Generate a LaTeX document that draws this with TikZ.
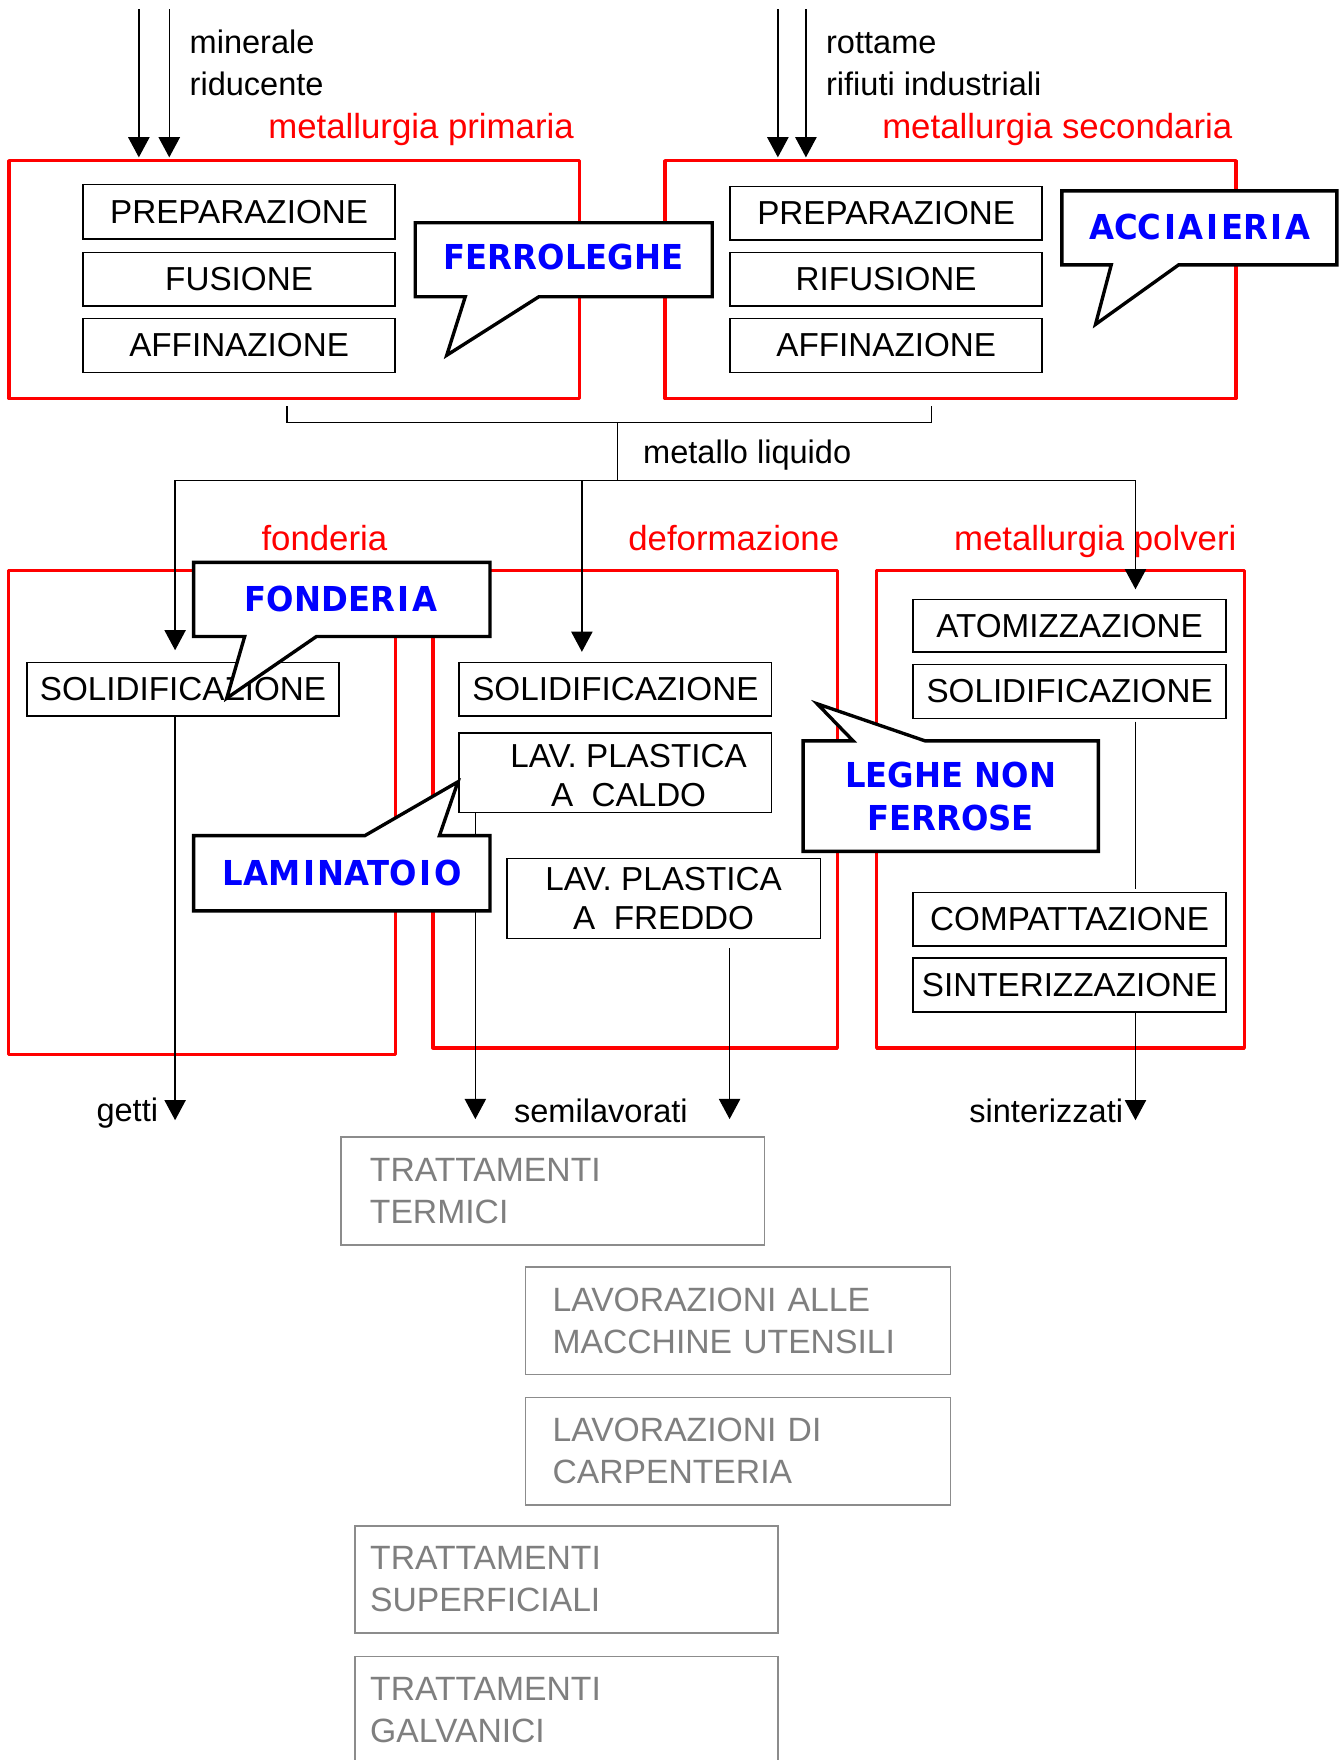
\documentclass[tikz,border=0pt]{standalone}
\usepackage{fontspec}
\setmainfont{Liberation Sans}
\newfontfamily\callfont[FakeStretch=0.94]{DejaVu Sans}
\usetikzlibrary{arrows.meta,fit}
\definecolor{rd}{HTML}{FF0000}
\definecolor{bl}{HTML}{0000FF}
\definecolor{gtext}{HTML}{7F7F7F}
\definecolor{gline}{HTML}{8C8C8C}
\newcommand\Ii{\kern1.2pt I\kern1.2pt}
\begin{document}
\begin{tikzpicture}[x=0.5pt,y=-0.5pt,
  every node/.style={inner sep=0pt, outer sep=0pt},
  bx/.style n args={4}{at={({(#1+#3)/2},{(#2+#4)/2})}, minimum width={(#3-#1)*0.5pt}, minimum height={(#4-#2)*0.5pt}},
  redbox/.style={draw=rd, line width=1.5pt, line join=round, rectangle},
  pbox/.style={draw=black, line width=0.7pt, fill=white, rectangle, font=\fontsize{14.8}{17.5}\selectfont, align=center},
  ptext/.style={font=\fontsize{14.8}{17.5}\selectfont, align=center},
  lbl/.style={font=\fontsize{14.5}{19}\selectfont, anchor=base west},
  rlbl/.style={text=rd, font=\fontsize{15.5}{19}\selectfont, anchor=base west},
  gbox/.style={draw=gline, line width=0.75pt, text=gtext, rectangle, font=\fontsize{15}{18.65}\selectfont, align=left, inner ysep=0pt},
  callout/.style={draw=black, line width=1.5pt, fill=white, line join=miter},
  ctext/.style={text=bl, font=\callfont\bfseries\fontsize{15.3}{19.5}\selectfont, align=center},
  conn/.style={draw=black, line width=0.6pt},
  arr/.style={conn, -{Triangle[width=9.5pt,length=9pt]}},
]
\useasboundingbox (0,0) rectangle (1196,1568);
\fill[white] (0,0) rectangle (1196,1568);
\clip (0,0) rectangle (1196,1568);

% ---------- red group frames ----------
\node[redbox, fit={(8,143.2) (516.5,355)}] (mp) {};
\node[redbox, fit={(592.5,143.2) (1101,355)}] (ms) {};
\node[redbox, fit={(7.5,508) (352.5,939.5)}] (fo) {};
\node[redbox, fit={(385.7,508) (746,933.5)}] (de) {};
\node[redbox, fit={(781,508) (1108.5,933.5)}] (po) {};

% ---------- labels ----------
\node[lbl] (minerale) at (169,47.5) {minerale};
\node[lbl] (riducente) at (169,84.7) {riducente};
\node[lbl] (rottame) at (736,47.5) {rottame};
\node[lbl] (rifiuti) at (736,84.7) {rifiuti industriali};
\node[rlbl] (lmp) at (239,123.3) {metallurgia primaria};
\node[rlbl] (lms) at (786,123.3) {metallurgia secondaria};
\node[rlbl] (lfo) at (233,490.8) {fonderia};
\node[rlbl] (lde) at (559.8,490.8) {deformazione};
\node[rlbl] (lpo) at (850,490.8) {metallurgia polveri};
\node[lbl] (ml) at (573,413) {metallo liquido};
\node[lbl] (getti) at (86,999) {getti};
\node[lbl] (semi) at (458,1000) {semilavorati};
\node[lbl] (sinterizzati) at (863.6,1000) {sinterizzati};

% ---------- process boxes ----------
\node[pbox, bx={74}{164.5}{352}{212.7}] (p1) {PREPARAZIONE};
\node[pbox, bx={74}{225}{352}{272.7}] (p2) {FUSIONE};
\node[pbox, bx={74}{283.7}{352}{331.8}] (p3) {AFFINAZIONE};
\node[pbox, bx={650.5}{166}{928.5}{213.9}] (q1) {PREPARAZIONE};
\node[pbox, bx={650.5}{225}{928.5}{272.7}] (q2) {RIFUSIONE};
\node[pbox, bx={650.5}{283.7}{928.5}{331.8}] (q3) {AFFINAZIONE};

\node[pbox, bx={24}{590.3}{302}{638}] (s1) {SOLIDIFICAZIONE};
\node[pbox, bx={409}{590.3}{687.5}{638}] (s2) {SOLIDIFICAZIONE};
\node[pbox, bx={409}{653}{687.5}{723.7}] (caldo) {};
\node[ptext] (caldot) at (560,691) {LAV. PLASTICA\\A\ \ CALDO};
\node[pbox, bx={451.7}{765}{730.8}{836}] (freddo) {LAV. PLASTICA\\A\ \ FREDDO};
\node[pbox, bx={813.5}{534}{1092.3}{581}] (atom) {ATOMIZZAZIONE};
\node[pbox, bx={813.5}{592}{1092.3}{640}] (s3) {SOLIDIFICAZIONE};
\node[pbox, bx={813.5}{795}{1092.3}{843}] (comp) {COMPATTAZIONE};
\node[pbox, bx={813.5}{853.5}{1092.3}{901.6}] (sint) {SINTERIZZAZIONE};

% ---------- gray follow-up boxes ----------
\node[gbox, minimum width=188.7pt, minimum height=48pt, inner xsep=13pt, text width=162.7pt] (tt) at (492.3,1061) {TRATTAMENTI\\TERMICI};
\node[gbox, minimum width=189.2pt, minimum height=47.8pt, inner xsep=12pt, text width=165.2pt] (lm) at (657.5,1176.8) {LAVORAZIONI ALLE\\MACCHINE UTENSILI};
\node[gbox, minimum width=189.2pt, minimum height=47.9pt, inner xsep=12pt, text width=165.2pt] (lc) at (657.5,1292.9) {LAVORAZIONI DI\\CARPENTERIA};
\node[gbox, minimum width=188.3pt, minimum height=47.6pt, inner xsep=6.7pt, text width=174.9pt] (ts) at (504.7,1407) {TRATTAMENTI\\SUPERFICIALI};
\node[gbox, minimum width=188.3pt, minimum height=47.6pt, inner xsep=6.7pt, text width=174.9pt] (tg) at (504.7,1523.4) {TRATTAMENTI\\GALVANICI};

% ---------- connectors ----------
\coordinate (a1) at (123.7,8.3);
\coordinate (a2) at (150.8,8.3);
\coordinate (a3) at (693,8.3);
\coordinate (a4) at (718,8.3);
\draw[arr, shorten >=1.5pt] (a1) -- (a1 |- mp.north);
\draw[arr, shorten >=1.5pt] (a2) -- (a2 |- mp.north);
\draw[arr, shorten >=1.5pt] (a3) -- (a3 |- ms.north);
\draw[arr, shorten >=1.5pt] (a4) -- (a4 |- ms.north);

\coordinate (bl) at (255.6,361.8);
\coordinate (br) at (829.7,361.8);
\coordinate (bj) at (550,376.4);
\coordinate (hj) at (550,427.8);
\draw[conn] (bl) |- (bj) -| (br);
\draw[conn] (bj) -- (hj);
\coordinate (h1) at (156,427.8);
\coordinate (h2) at (518.4,427.8);
\coordinate (h3) at (1011.6,427.8);
\draw[conn] (h1) -- (h3);
\draw[arr, shorten >=5.5pt] (h1) -- (h1 |- s1.north);
\draw[arr, shorten >=4.8pt] (h2) -- (h2 |- s2.north);
\draw[arr, shorten >=4.5pt] (h3) -- (h3 |- atom.north);

\coordinate (o1) at (156,998);
\coordinate (o2) at (423.5,997);
\coordinate (o3) at (650,997);
\coordinate (o4) at (1011.6,998);
\draw[arr] (s1.south -| o1) -- (o1);
\draw[arr] (caldo.south -| o2) -- (o2);
\draw[arr, shorten <=4.5pt] (freddo.south -| o3) -- (o3);
\draw[arr] (sint.south -| o4) -- (o4);
\draw[conn, shorten <=1.5pt, shorten >=1.5pt] (s3.south -| o4) -- (comp.north -| o4);

% ---------- callouts ----------
\draw[callout] (370,198.4) -- (634.5,198.4) -- (634.5,264.4) -- (480,264.4) -- (398,316.5) -- (414.5,264.4) -- (370,264.4) -- cycle;
\node[ctext] (ferro) at (502,229) {FERROLEGHE};

\draw[callout] (946,170) -- (1191,170) -- (1191,236) -- (1050,236) -- (976,289) -- (990,236) -- (946,236) -- cycle;
\node[ctext] (acc) at (1069,202) {ACC\Ii A\Ii ER\Ii A};

\draw[callout] (172.5,501) -- (436.5,501) -- (436.5,567) -- (282,567) -- (202,622) -- (218,567) -- (172.5,567) -- cycle;
\node[ctext] (fond) at (304,534) {FONDER\Ii A};

\draw[callout] (172.5,744.5) -- (325,744.5) -- (408,696.5) -- (391.5,744.5) -- (436.5,744.5) -- (436.5,811.5) -- (172.5,811.5) -- cycle;
\node[ctext] (lamin) at (305,778) {LAM\Ii NATO\Ii O};

\draw[callout] (715.5,660) -- (760,660) -- (728,627) -- (824,660) -- (978.5,660) -- (978.5,758.5) -- (715.5,758.5) -- cycle;
\node[ctext] (leghe) at (847,709.5) {LEGHE NON\\FERROSE};
\end{tikzpicture}
\end{document}
